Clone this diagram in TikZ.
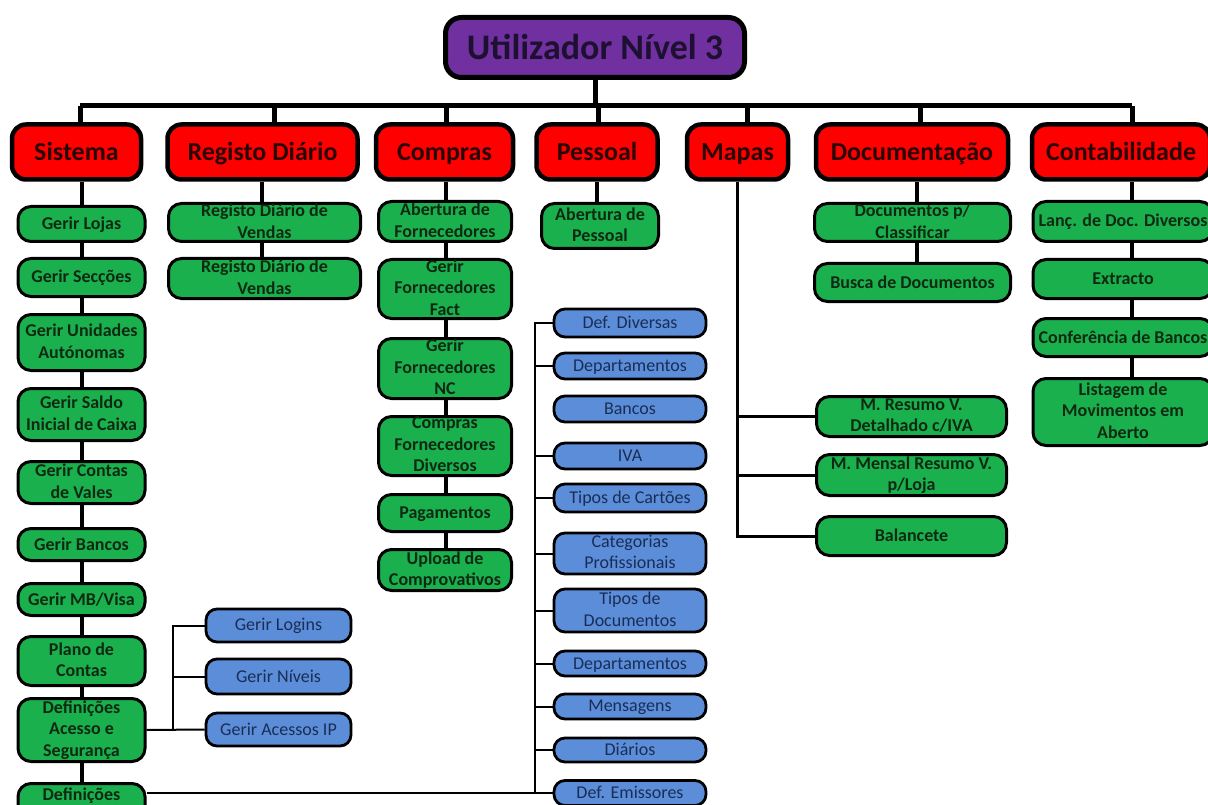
\documentclass[tikz,border=0pt]{standalone}
\usepackage{fontspec}
\setmainfont{Carlito}
\usetikzlibrary{backgrounds}
\definecolor{topfill}{HTML}{7030A0}
\definecolor{hdrfill}{HTML}{FF0000}
\definecolor{grnfill}{HTML}{1BB04E}
\definecolor{blufill}{HTML}{5B8DD9}
\definecolor{topink}{HTML}{1E1030}
\definecolor{hdrink}{HTML}{2A0505}
\definecolor{grnink}{HTML}{0F2A12}
\definecolor{bluink}{HTML}{1A2E55}
\tikzset{
  % struts so every text block sits optically centred in its box
  smallstrut/.style={execute at begin node={\rule{0pt}{14pt}},
    execute at end node={\rule[-3pt]{0pt}{3pt}}},
  titlebox/.style={draw=black, line width=5pt, rounded corners=16pt, fill=topfill,
    text=topink, font=\fontsize{36}{40}\selectfont\bfseries, inner sep=0pt,
    minimum width=299pt, minimum height=60pt,
    execute at begin node={\rule{0pt}{29pt}},
    execute at end node={\rule[-5pt]{0pt}{5pt}}},
  hdrbox/.style={draw=black, line width=4.5pt, rounded corners=14pt, fill=hdrfill,
    text=hdrink, font=\fontsize{26}{30}\selectfont\bfseries, inner sep=0pt,
    minimum height=55pt,
    execute at begin node={\rule{0pt}{21pt}},
    execute at end node={\rule[-4pt]{0pt}{4pt}}},
  gbox/.style={draw=black, line width=3pt, rounded corners=13pt, fill=grnfill,
    text=grnink, font=\fontsize{18}{21.5}\selectfont\bfseries, align=center,
    inner sep=0pt, smallstrut},
  bbox/.style={draw=black, line width=2.8pt, rounded corners=11pt, fill=blufill,
    text=bluink, font=\fontsize{18}{21.5}\selectfont, align=center, inner sep=0pt,
    smallstrut},
  trunk/.style={draw=black, line width=5pt},
  link/.style={draw=black, line width=3.5pt},
  twig/.style={draw=black, line width=2pt},
}
\begin{document}
\begin{tikzpicture}[x=1pt, y=-1pt]
\useasboundingbox (0,0) rectangle (1208,805);
\clip (0,0) rectangle (1208,805);

% top node and the first level
\node[titlebox] (top) at (595,47.5) {Utilizador Nível 3};

\node[hdrbox, minimum width=129pt] (sys)  at (76.5,152) {Sistema};
\node[hdrbox, minimum width=190pt] (reg)  at (262.5,152) {Registo Diário};
\node[hdrbox, minimum width=137pt] (com)  at (444.5,152) {Compras};
\node[hdrbox, minimum width=121pt] (pes)  at (597,152) {Pessoal};
\node[hdrbox, minimum width=101pt] (map)  at (737.5,152) {Mapas};
\node[hdrbox, minimum width=192pt] (doc)  at (912,152) {Documentação};
\node[hdrbox, minimum width=178pt] (cont) at (1121,152) {Contabilidade};

% Sistema
\begin{scope}[every node/.append style={gbox, minimum width=127pt}]
\node[minimum height=35pt] (gl)  at (81.5,224)   {Gerir Lojas};
\node[minimum height=38pt] (gs)  at (81.5,277.5) {Gerir Secções};
\node[minimum height=56pt] (gu)  at (81.5,342.5) {Gerir Unidades\\Autónomas};
\node[minimum height=52pt] (gsa) at (81.5,414.5) {Gerir Saldo\\Inicial de Caixa};
\node[minimum height=42pt] (gc)  at (81.5,482.5) {Gerir Contas\\de Vales};
\node[minimum height=32pt] (gb)  at (81.5,544.5) {Gerir Bancos};
\node[minimum height=32pt] (gmb) at (81.5,599.5) {Gerir MB/Visa};
\node[minimum height=49pt] (pc)  at (81.5,661)   {Plano de\\Contas};
\node[minimum height=63pt] (das) at (81.5,730)   {Definições\\Acesso e\\Segurança};
\node[minimum height=45pt] (defs) at (81.5,806)  {Definições\\ };
\end{scope}

% Registo Diário
\begin{scope}[every node/.append style={gbox, minimum width=192pt}]
\node[minimum height=38pt] (rv1) at (264.5,222.5) {Registo Diário de\\Vendas};
\node[minimum height=40pt] (rv2) at (264.5,278.5) {Registo Diário de\\Vendas};
\end{scope}

% Compras
\begin{scope}[every node/.append style={gbox, minimum width=133pt}]
\node[minimum height=40pt] (af)  at (445,221.5) {Abertura de\\Fornecedores};
\node[minimum height=59pt] (gff) at (445,289)   {Gerir\\Fornecedores\\Fact};
\node[minimum height=60pt] (gfn) at (445,368.5) {Gerir\\Fornecedores\\NC};
\node[minimum height=59pt] (cfd) at (445,446)   {Compras\\Fornecedores\\Diversos};
\node[minimum height=37pt] (pag) at (445,513)   {Pagamentos};
\node[minimum height=41pt] (upl) at (445,570)   {Upload de\\Comprovativos};
\end{scope}

% Pessoal
\node[gbox, minimum width=117pt, minimum height=45pt] (ap) at (600,226) {Abertura de\\Pessoal};

% Documentação
\begin{scope}[every node/.append style={gbox, minimum width=196pt}]
\node[minimum height=38pt] (dpc) at (912.5,222.5) {Documentos p/\\Classificar};
\node[minimum height=38pt] (bdd) at (912.5,282.5) {Busca de Documentos};
\end{scope}

% Mapas
\begin{scope}[every node/.append style={gbox, minimum width=190pt}]
\node[minimum height=40pt] (mres) at (911.5,416.5) {M. Resumo V.\\Detalhado c/IVA};
\node[minimum height=41pt] (mmen) at (911.5,475)   {M. Mensal Resumo V.\\p/Loja};
\node[minimum height=39pt] (bal)  at (911.5,536)   {Balancete};
\end{scope}

% Contabilidade
\begin{scope}[every node/.append style={gbox, minimum width=180pt}]
\node[minimum height=40pt] (lanc) at (1123,221.5) {Lanç. de Doc. Diversos};
\node[minimum height=39pt] (ext)  at (1123,279)   {Extracto};
\node[minimum height=38pt] (conf) at (1123,337.5) {Conferência de Bancos};
\node[minimum height=67pt] (list) at (1123,412)   {Listagem de\\Movimentos em\\Aberto};
\end{scope}

% access settings
\begin{scope}[every node/.append style={bbox, minimum width=145pt}]
\node[minimum height=33pt] (log)  at (278.5,625.5) {Gerir Logins};
\node[minimum height=35pt] (niv)  at (278.5,676.5) {Gerir Níveis};
\node[minimum height=33pt] (acip) at (278.5,729.5) {Gerir Acessos IP};
\end{scope}

% general settings
\begin{scope}[every node/.append style={bbox, minimum width=152pt}]
\node[minimum height=28pt] (dd)   at (630,323)   {Def. Diversas};
\node[minimum height=26pt] (dep1) at (630,366)   {Departamentos};
\node[minimum height=26pt] (ban)  at (630,409)   {Bancos};
\node[minimum height=26pt] (iva)  at (630,456)   {IVA};
\node[minimum height=28pt] (tc)   at (630,498)   {Tipos de Cartões};
\node[minimum height=41pt] (cp)   at (630,553.5) {Categorias\\Profissionais};
\node[minimum height=43pt] (td)   at (630,610.5) {Tipos de\\Documentos};
\node[minimum height=25pt] (dep2) at (630,663.5) {Departamentos};
\node[minimum height=25pt] (msg)  at (630,706.5) {Mensagens};
\node[minimum height=24pt] (dia)  at (630,750)   {Diários};
\node[minimum height=25pt] (dem)  at (630,793)   {Def. Emissores};
\end{scope}

% junction points of the connectors
\coordinate (b1) at (80,106);
\coordinate (b2) at (274,106);
\coordinate (b3) at (446,106);
\coordinate (b4) at (598,106);
\coordinate (b5) at (747,106);
\coordinate (b6) at (920,106);
\coordinate (b7) at (1132,106);
\coordinate (kSys) at (82,182);
\coordinate (kReg) at (262,182);
\coordinate (kCom) at (446,182);
\coordinate (kPes) at (597,182);
\coordinate (kMap) at (737,182);
\coordinate (kDoc) at (917,182);
\coordinate (kCon) at (1132,182);
\coordinate (kAcc) at (173,600);
\coordinate (kDef) at (535,300);

\begin{scope}[on background layer]
  % top level bus
  \draw[trunk] (b1) -- (b7);
  \draw[trunk] (top.south) -- (top.south |- b1);
  \foreach \c/\h in {b1/sys, b2/reg, b3/com, b4/pes, b5/map, b6/doc, b7/cont}
    \draw[trunk] (\c) -- (\c |- \h.north);
  % column spines
  \draw[link] (kSys) -- (kSys |- defs.north);
  \draw[link] (kReg) -- (kReg |- rv2.north);
  \draw[link] (kCom) -- (kCom |- upl.north);
  \draw[link] (kPes) -- (kPes |- ap.north);
  \draw[link] (kDoc) -- (kDoc |- bdd.north);
  \draw[link] (kCon) -- (kCon |- list.north);
  % Mapas reports
  \draw[twig, line width=3pt] (kMap) |- (bal.west);
  \draw[twig, line width=3pt] (mres.west) -- (mres.west -| kMap);
  \draw[twig, line width=3pt] (mmen.west) -- (mmen.west -| kMap);
  % access settings
  \draw[twig] (das.east) -- (acip.west);
  \draw[twig] (log.west) -| (kAcc |- acip.west);
  \draw[twig] (niv.west) -- (niv.west -| kAcc);
  % general settings
  \draw[twig] (dem.west) -- (dem.west -| defs.east);
  \draw[twig] (dd.west) -| (kDef |- dem.west);
  \foreach \n in {dep1, iva, tc, cp, td, dep2, msg, dia}
    \draw[twig] (\n.west) -- (\n.west -| kDef);
\end{scope}
\end{tikzpicture}
\end{document}
